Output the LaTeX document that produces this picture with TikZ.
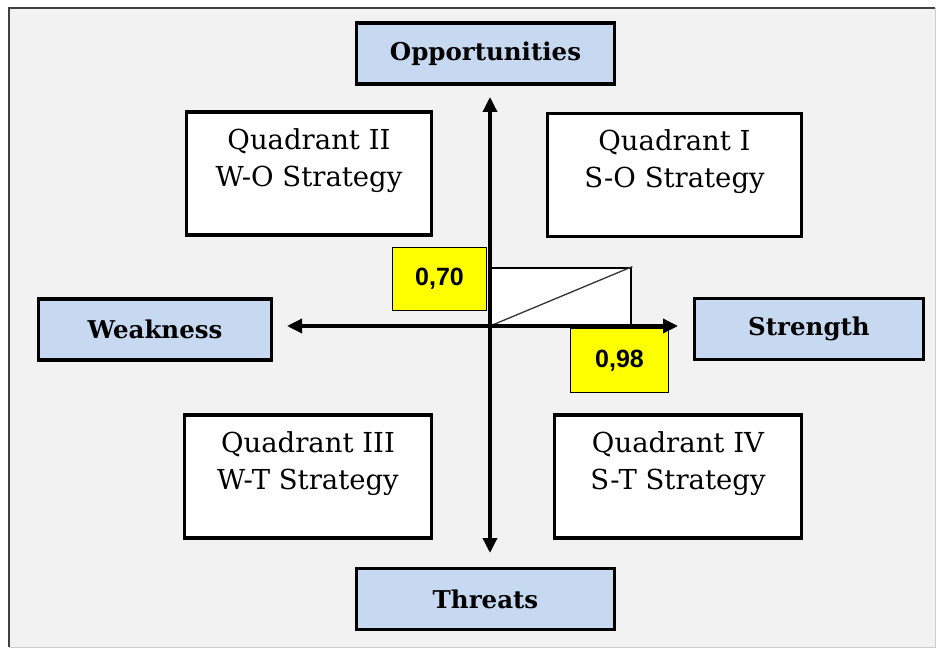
\documentclass[tikz,border=0pt]{standalone}
\usepackage{fontspec}
\setmainfont{DejaVu Serif}
\newfontfamily\numfont{Liberation Sans}
\usetikzlibrary{positioning,arrows.meta}
\definecolor{paper}{HTML}{F2F2F2}
\definecolor{sideblue}{HTML}{C6D9F1}
\definecolor{markyellow}{HTML}{FFFF00}
\tikzset{
  side/.style={draw=black,line width=3.2pt,fill=sideblue,inner sep=0pt,
    minimum height=61pt,font=\fontsize{24.5}{28}\selectfont\bfseries},
  quad/.style={draw=black,line width=3.2pt,fill=white,inner sep=0pt,minimum height=123pt},
  quadtext/.style={align=center,inner sep=0pt,font=\fontsize{27.5}{37}\selectfont},
  val/.style={draw=black,line width=1.6pt,fill=markyellow,inner sep=0pt,
    font=\numfont\fontsize{25}{28}\selectfont\bfseries},
  axis/.style={line width=3.4pt,{Triangle[length=15pt,width=14pt]}-{Triangle[length=15pt,width=14pt]}}
}
\begin{document}
\begin{tikzpicture}[x=1pt,y=-1pt]
\useasboundingbox (0,0) rectangle (938,650);
% frame
\fill[paper] (9,8) rectangle (935,647);
\draw[black!75,line width=1.5pt] (9,647) -- (9,8) -- (935,8);
\draw[black!20,line width=1pt] (935,8) -- (935,647) -- (9,647);

% the four sides
\node[side,minimum width=258pt] (opp) at (485.5,53.5) {Opportunities};
\node[side,minimum width=258pt] (thr) at (485.5,599) {Threats};
\node[side,minimum width=233pt] (weak) at (155,329.5) {Weakness};
\node[side,minimum width=229pt] (str) at (809,329) {Strength};

% quadrants
\foreach \n/\x/\y/\w/\t in {q1/674.5/175/254/{Quadrant I\\S-O Strategy},
  q2/309/173.5/245/{Quadrant II\\W-O Strategy},
  q3/308/476.5/247/{Quadrant III\\W-T Strategy},
  q4/678/476.5/247/{Quadrant IV\\S-T Strategy}} {
  \node[quad,minimum width=\w pt] (\n) at (\x,\y) {};
  \node[quadtext,below=18pt of \n.north] (\n t) {\t};
}

% position
\coordinate (o) at (490,326);
\node[draw,line width=2.4pt,fill=white,anchor=south west,inner sep=0pt,
  minimum width=140pt,minimum height=57pt] (bar) at (o) {};
\draw[line width=1.3pt,black!80] (bar.south west) -- (bar.north east);
\node[val,minimum width=94pt,minimum height=63pt] (v70) at (439.5,279) {0,70};
\node[val,minimum width=98pt,minimum height=64pt] (v98) at (619.5,360.5) {0,98};

% axes
\coordinate (up) at (490,97);
\coordinate (down) at (490,553);
\coordinate (left) at (287,326);
\coordinate (right) at (678,326);
\draw[axis] (down) -- (up);
\draw[axis] (left) -- (right);
\end{tikzpicture}
\end{document}
